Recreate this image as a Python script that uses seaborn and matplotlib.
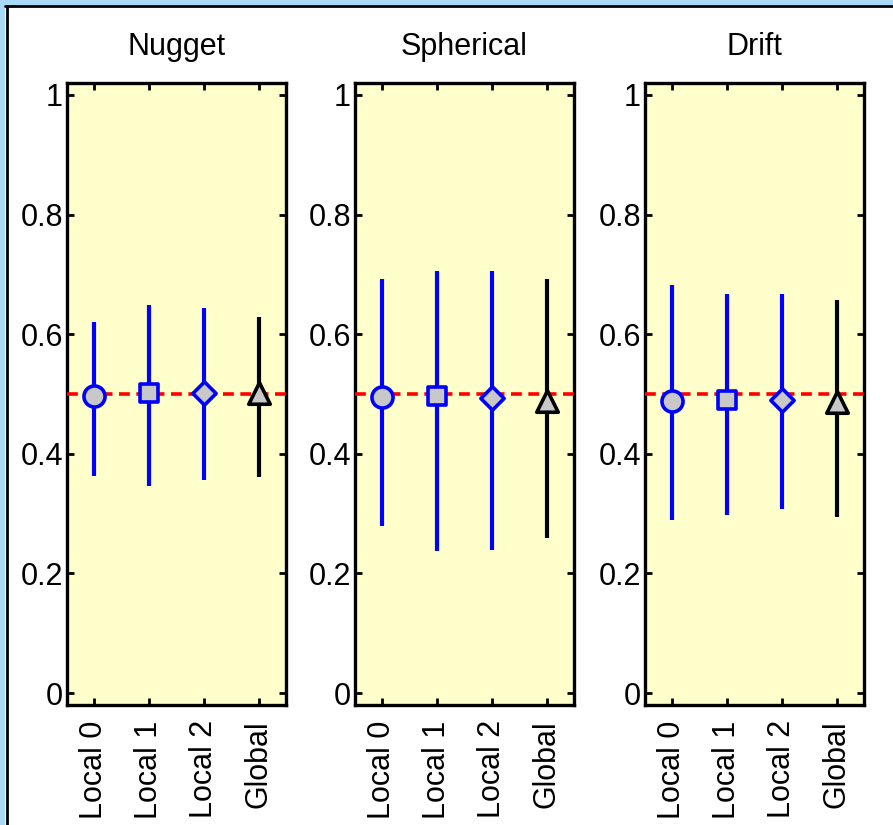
import numpy as np
import matplotlib.pyplot as plt
import matplotlib.patches as mpatches
import seaborn as sns

sns.set_theme(style='white')
plt.rcParams['font.family'] = ['Liberation Sans', 'DejaVu Sans']

# data
panels = ['Nugget', 'Spherical', 'Drift']
methods = ['Local 0', 'Local 1', 'Local 2', 'Global']
ytick_vals = [0, 0.2, 0.4, 0.6, 0.8, 1]
ytick_labels = ['0', '0.2', '0.4', '0.6', '0.8', '1']
true_value = 0.5

nugget_mean = [0.497, 0.501, 0.502, 0.501]
nugget_low = [0.363, 0.346, 0.356, 0.361]
nugget_high = [0.621, 0.649, 0.643, 0.628]

spherical_mean = [0.495, 0.497, 0.494, 0.489]
spherical_low = [0.279, 0.238, 0.239, 0.259]
spherical_high = [0.692, 0.706, 0.705, 0.693]

drift_mean = [0.488, 0.490, 0.490, 0.486]
drift_low = [0.289, 0.297, 0.307, 0.294]
drift_high = [0.682, 0.667, 0.668, 0.658]

means = [nugget_mean, spherical_mean, drift_mean]
lows = [nugget_low, spherical_low, drift_low]
highs = [nugget_high, spherical_high, drift_high]

marker_shapes = ['o', 's', 'D', '^']
marker_sizes = [230, 170, 140, 240]
line_colors = ['#0000ff', '#0000ff', '#0000ff', '#000000']
face_gray = '#c8c8c8'
bg_yellow = '#ffffcc'

fig = plt.figure(figsize=(8.93, 8.25), dpi=100)
fig.patch.set_facecolor('white')

# light blue frame with dark inner line (top and left only, as in reference)
fig.patches.append(mpatches.Rectangle((0, 1 - 5 / 825), 1, 5 / 825, transform=fig.transFigure,
                                      facecolor='#aad8f8', edgecolor='none', zorder=0))
fig.patches.append(mpatches.Rectangle((0, 0), 5 / 893, 1, transform=fig.transFigure,
                                      facecolor='#aad8f8', edgecolor='none', zorder=0))
fig.add_artist(plt.Line2D([5 / 893, 1], [1 - 6 / 825, 1 - 6 / 825], transform=fig.transFigure,
                          color='black', lw=2))
fig.add_artist(plt.Line2D([6.5 / 893, 6.5 / 893], [0, 1 - 6 / 825], transform=fig.transFigure,
                          color='black', lw=2))

lefts = [67, 355, 645]
width_px = 219
for k, name in enumerate(panels):
    ax = fig.add_axes([lefts[k] / 893, 120 / 825, width_px / 893, 622 / 825])
    ax.set_facecolor(bg_yellow)
    pos = np.arange(1, len(methods) + 1)

    ax.vlines(pos, lows[k], highs[k], colors=line_colors, linewidth=3, zorder=2)
    ax.axhline(true_value, color='red', linestyle=(0, (3, 1.8)), linewidth=2.6, zorder=3)
    for i in range(len(methods)):
        sns.scatterplot(x=[pos[i]], y=[means[k][i]], marker=marker_shapes[i], s=marker_sizes[i],
                        color=face_gray, edgecolor=line_colors[i], linewidth=2.6,
                        zorder=4, ax=ax, legend=False)

    ax.set_xlim(0.5, 4.5)
    ax.set_ylim(-0.02, 1.02)
    ax.set_xticks(pos)
    ax.set_xticklabels(methods, rotation=90, fontsize=22)
    ax.set_yticks(ytick_vals)
    ax.set_yticklabels(ytick_labels, fontsize=22)
    ax.tick_params(direction='in', length=5, width=2, top=True, right=True,
                   bottom=True, left=True, color='black', labelcolor='black')
    ax.tick_params(axis='x', pad=11)
    ax.tick_params(axis='y', pad=3)
    for s in ax.spines.values():
        s.set_color('black')
        s.set_linewidth(2.4)
    ax.set_xlabel('')
    ax.set_ylabel('')
    ax.set_title(name, fontsize=22, pad=20, color='black')

fig.savefig('out.png', dpi=100)
